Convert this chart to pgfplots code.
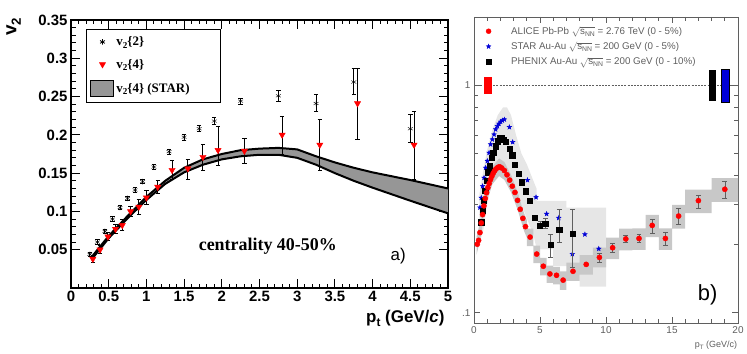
\documentclass[border=0pt]{standalone}
\usepackage{fontspec}
\setmainfont{Liberation Serif}
\setsansfont{Liberation Sans}
\usepackage{graphicx}
\usepackage{pgfplots}
\pgfplotsset{compat=1.18}
\newcommand{\lsub}[1]{\raisebox{-0.45ex}{\scalebox{0.7}{#1}}}
\newcommand{\snn}{$\sqrt{\mbox{s\lsub{NN}}}$}
\definecolor{bandgray}{RGB}{150,150,150}
\definecolor{lightsys}{RGB}{230,230,230}
\definecolor{alicesys}{RGB}{200,200,200}
\definecolor{labgray}{RGB}{95,95,95}
\definecolor{starblue}{RGB}{0,0,215}
\pgfdeclareplotmark{fstar}{%
  \pgfpathmoveto{\pgfqpointpolar{90}{\pgfplotmarksize}}%
  \pgfpathlineto{\pgfqpointpolar{126}{0.42\pgfplotmarksize}}%
  \pgfpathlineto{\pgfqpointpolar{162}{\pgfplotmarksize}}%
  \pgfpathlineto{\pgfqpointpolar{198}{0.42\pgfplotmarksize}}%
  \pgfpathlineto{\pgfqpointpolar{234}{\pgfplotmarksize}}%
  \pgfpathlineto{\pgfqpointpolar{270}{0.42\pgfplotmarksize}}%
  \pgfpathlineto{\pgfqpointpolar{306}{\pgfplotmarksize}}%
  \pgfpathlineto{\pgfqpointpolar{342}{0.42\pgfplotmarksize}}%
  \pgfpathlineto{\pgfqpointpolar{18}{\pgfplotmarksize}}%
  \pgfpathlineto{\pgfqpointpolar{54}{0.42\pgfplotmarksize}}%
  \pgfpathclose
  \pgfusepathqfillstroke}
\begin{document}
\begin{tikzpicture}[x=1bp,y=1bp]
\path[use as bounding box] (0,0) rectangle (747,353);
% ---------------- panel a ----------------
\begin{axis}[
  at={(71bp,65bp)}, anchor=south west, scale only axis,
  width=377bp, height=268bp,
  xmin=0, xmax=5, ymin=0, ymax=0.35,
  scaled ticks=false,
  xtick={0,0.5,1,1.5,2,2.5,3,3.5,4,4.5,5},
  xticklabels={0,0.5,1,1.5,2,2.5,3,3.5,4,4.5,5},
  ytick={0.05,0.1,0.15,0.2,0.25,0.3,0.35},
  yticklabels={0.05,0.1,0.15,0.2,0.25,0.3,0.35},
  minor x tick num=4, minor y tick num=4,
  tick align=inside, major tick length=9bp, minor tick length=4.5bp,
  axis line style={line width=1.5bp},
  every tick/.style={black, line width=1bp},
  ticklabel style={font=\sffamily\bfseries\fontsize{15}{18}\selectfont},
  clip mode=individual,
  legend style={at={(rel axis cs:0.04,0.966)}, anchor=north west, draw=black, line width=1.2bp,
    font=\rmfamily\bfseries\fontsize{13}{15}\selectfont, inner xsep=3bp, inner ysep=5bp, row sep=8bp},
  legend cell align=left,
]
\addplot[fill=bandgray, draw=none, forget plot] coordinates {
(0.27,0.040)(0.5,0.068)(0.75,0.094)(1.0,0.119)(1.25,0.140)(1.5,0.157)(1.75,0.168)(2.0,0.175)(2.25,0.180)(2.5,0.182)(2.75,0.183)(3.0,0.181)(3.25,0.172)(3.5,0.164)(3.75,0.157)(4.0,0.151)(4.5,0.141)(5.0,0.130)
(5.0,0.0975)(4.5,0.114)(4.0,0.131)(3.75,0.140)(3.5,0.150)(3.25,0.161)(3.0,0.170)(2.75,0.174)(2.5,0.174)(2.25,0.172)(2.0,0.168)(1.75,0.161)(1.5,0.151)(1.25,0.136)(1.0,0.115)(0.75,0.091)(0.5,0.065)(0.27,0.037)} -- cycle;
\addplot[black, line width=2bp, forget plot] coordinates {
(0.27,0.040)(0.5,0.068)(0.75,0.094)(1.0,0.119)(1.25,0.140)(1.5,0.157)(1.75,0.168)(2.0,0.175)(2.25,0.180)(2.5,0.182)(2.75,0.183)(3.0,0.181)(3.25,0.172)(3.5,0.164)(3.75,0.157)(4.0,0.151)(4.5,0.141)(5.0,0.130)};
\addplot[black, line width=2bp, forget plot] coordinates {
(0.27,0.037)(0.5,0.065)(0.75,0.091)(1.0,0.115)(1.25,0.136)(1.5,0.151)(1.75,0.161)(2.0,0.168)(2.25,0.172)(2.5,0.174)(2.75,0.174)(3.0,0.170)(3.25,0.161)(3.5,0.150)(3.75,0.140)(4.0,0.131)(4.5,0.114)(5.0,0.0975)};
% v2{2}
\addplot[only marks, mark=asterisk, mark size=2.8bp, black,
  legend image code/.code={\path[draw=none, fill=none] (0bp,-4bp) rectangle (24bp,4bp); \path[draw=none, fill=none] plot[mark=asterisk, mark size=2.8bp, mark options={draw=black, line width=0.8bp}] coordinates {(12bp,0bp)};},
  error bars/.cd, y dir=both, y explicit, error bar style={line width=1bp, black},
  error mark options={rotate=90, mark size=2.2bp, line width=1bp, black}]
coordinates {
(0.25,0.044) +- (0,0.003)
(0.35,0.060) +- (0,0.003)
(0.45,0.074) +- (0,0.003)
(0.55,0.090) +- (0,0.003)
(0.65,0.105) +- (0,0.003)
(0.75,0.117) +- (0,0.003)
(0.85,0.128) +- (0,0.003)
(0.95,0.139) +- (0,0.003)
(1.10,0.158) +- (0,0.003)
(1.30,0.178) +- (0,0.003)
(1.50,0.197) +- (0,0.004)
(1.70,0.208) +- (0,0.004)
(1.90,0.218) +- (0,0.005)
(2.25,0.244) +- (0,0.004)
(2.75,0.251) +- (0,0.007)
(3.25,0.241) += (0,0.012) -= (0,0.011)
(3.75,0.269) += (0,0.018) -= (0,0.016)
(4.50,0.208) += (0,0.019) -= (0,0.018)
};
\addlegendentry{v\lsub{2}\{2\}}
% v2{4}
\addplot[only marks, mark=triangle*, mark size=3.6bp, red, mark options={rotate=180, fill=red, draw=red},
  legend image code/.code={\path[draw=none, fill=none] (0bp,-4bp) rectangle (24bp,4bp); \path[draw=none, fill=none] plot[mark=triangle*, mark size=3.6bp, mark options={rotate=180, fill=red, draw=red, line width=0.4bp}] coordinates {(12bp,0bp)};},
  error bars/.cd, y dir=both, y explicit, error bar style={line width=1bp, black},
  error mark options={rotate=90, mark size=2.2bp, line width=1bp, black}]
coordinates {
(0.29,0.038) +- (0,0.005)
(0.385,0.050) +- (0,0.005)
(0.49,0.067) +- (0,0.005)
(0.59,0.077) +- (0,0.006)
(0.68,0.082) +- (0,0.007)
(0.79,0.100) +- (0,0.007)
(0.90,0.106) +- (0,0.010)
(1.00,0.118) +- (0,0.009)
(1.15,0.132) +- (0,0.009)
(1.34,0.154) +- (0,0.012)
(1.55,0.156) += (0,0.012) -= (0,0.014)
(1.75,0.171) += (0,0.016) -= (0,0.018)
(1.95,0.180) += (0,0.031) -= (0,0.020)
(2.30,0.179) += (0,0.016) -= (0,0.017)
(2.80,0.200) += (0,0.024) -= (0,0.025)
(3.30,0.187) += (0,0.033) -= (0,0.034)
(3.80,0.241) += (0,0.046) -= (0,0.047)
(4.55,0.187) += (0,0.044) -= (0,0.045)
};
\addlegendentry{v\lsub{2}\{4\}}
\addlegendimage{legend image code/.code={\draw[fill=bandgray, line width=1.6bp] (0bp,-8bp) rectangle (23bp,8bp);}}
\addlegendentry{v\lsub{2}\{4\} (STAR)\hspace*{26bp}}
\node[font=\rmfamily\bfseries\fontsize{18}{21}\selectfont] at (axis cs:2.61,0.055) {centrality 40-50\%};
\node[font=\sffamily\fontsize{17}{20}\selectfont] at (axis cs:4.34,0.042) {a)};
\node[rotate=90, font=\sffamily\bfseries\fontsize{19}{22}\selectfont] at (rel axis cs:-0.152,0.975) {v\lsub{2}};
\node[anchor=east, font=\sffamily\bfseries\fontsize{17}{20}\selectfont] at (rel axis cs:1.0,-0.115) {p\lsub{t} (GeV/\textit{c})};
\end{axis}
% ---------------- panel b ----------------
\begin{axis}[
  at={(474bp,30bp)}, anchor=south west, scale only axis,
  width=264bp, height=306bp,
  xmin=0, xmax=20, ymode=log, ymin=0.09, ymax=2,
  scaled ticks=false,
  xtick={0,5,10,15,20}, xticklabels={0,5,10,15,20}, minor x tick num=4,
  ytick={0.1,1}, yticklabels={.1,1},
  minor ytick={0.09,0.2,0.3,0.4,0.5,0.6,0.7,0.8,0.9,2},
  tick align=inside, major tick length=6bp, minor tick length=4bp,
  axis line style={labgray, line width=0.8bp},
  every tick/.style={labgray, line width=0.7bp},
  ticklabel style={font=\sffamily\fontsize{10}{12}\selectfont, text=labgray},
  clip mode=individual,
  legend style={at={(rel axis cs:0.045,0.975)}, anchor=north west, draw=none, fill=none,
    font=\sffamily\fontsize{9.8}{11}\selectfont, text=labgray, row sep=2.5bp, inner sep=0pt},
  legend cell align=left,
]
\addlegendimage{only marks, mark=*, red, mark size=2.5bp}
\addlegendentry{\hspace*{18bp}ALICE Pb-Pb \snn{} = 2.76 TeV (0 - 5\%)}
\addlegendimage{only marks, mark=fstar, starblue, mark size=2.4bp}
\addlegendentry{\hspace*{18bp}STAR Au-Au \snn{} = 200 GeV (0 - 5\%)}
\addlegendimage{only marks, mark=square*, black, mark size=2.4bp}
\addlegendentry{\hspace*{18bp}PHENIX Au-Au \snn{} = 200 GeV (0 - 10\%)}
% light systematic band (STAR / PHENIX)
\addplot[fill=lightsys, draw=none, forget plot] coordinates {
(0.4,0.33)(0.7,0.42)(1.0,0.52)(1.4,0.64)(1.8,0.74)(2.2,0.80)(2.5,0.80)(2.8,0.74)(3.2,0.60)(3.6,0.50)(4.0,0.45)(4.5,0.38)(4.75,0.35)(4.75,0.31)(7,0.31)(7,0.29)(10,0.29)
(10,0.13)(8,0.13)(8,0.16)(6,0.16)(6,0.19)(4.75,0.19)(4.5,0.22)(4.0,0.26)(3.5,0.31)(3.0,0.37)(2.5,0.44)(2.0,0.46)(1.5,0.40)(1.0,0.30)(0.7,0.23)(0.4,0.20)} -- cycle;
% ALICE systematic boxes
\addplot[fill=alicesys, draw=none, forget plot] coordinates {
(0.2,0.216)(0.5,0.257)(0.8,0.334)(1.0,0.377)(1.4,0.440)(1.9,0.477)(2.3,0.460)(2.8,0.405)(3.3,0.340)(3.8,0.273)(4.0,0.256)(4.0,0.234)(4.5,0.234)(4.5,0.197)(5,0.197)(5,0.174)(5.5,0.174)(5.5,0.161)(6,0.161)(6,0.159)(6.5,0.159)(6.5,0.152)(7,0.152)(7,0.166)(8,0.166)(8,0.179)(9,0.179)(9,0.193)(10,0.193)(10,0.214)(11,0.214)(11,0.234)(12,0.234)(12,0.235)(13,0.235)(13,0.269)(14,0.269)(14,0.235)(15,0.235)(15,0.298)(16,0.298)(16,0.348)(18,0.348)(18,0.391)(20,0.391)
(20,0.307)(18,0.307)(18,0.274)(16,0.274)(16,0.234)(15,0.234)(15,0.189)(14,0.189)(14,0.215)(13,0.215)(13,0.189)(12,0.189)(12,0.188)(11,0.188)(11,0.172)(10,0.172)(10,0.158)(9,0.158)(9,0.147)(8,0.147)(8,0.138)(7,0.138)(7,0.126)(6.5,0.126)(6.5,0.133)(6,0.133)(6,0.135)(5.5,0.135)(5.5,0.146)(5,0.146)(5,0.165)(4.5,0.165)(4.5,0.196)(4,0.196)(4,0.214)(3.8,0.228)(3.3,0.284)(2.8,0.339)(2.3,0.384)(1.9,0.399)(1.4,0.368)(1.0,0.315)(0.8,0.278)(0.5,0.215)(0.2,0.180)} -- cycle;
% reference line and normalisation boxes
\addplot[labgray, dash pattern=on 2bp off 1.2bp, line width=0.5bp, forget plot] coordinates {(0,1)(20,1)};
\addplot[fill=red, draw=none, forget plot] coordinates {(0.75,0.92)(1.35,0.92)(1.35,1.09)(0.75,1.09)} -- cycle;
\addplot[fill=black, draw=none, forget plot] coordinates {(17.8,0.853)(18.35,0.853)(18.35,1.168)(17.8,1.168)} -- cycle;
\addplot[fill=starblue, draw=black, line width=0.4bp, forget plot] coordinates {(18.7,0.845)(19.3,0.845)(19.3,1.176)(18.7,1.176)} -- cycle;
% STAR
\addplot[only marks, mark=fstar, starblue, mark size=2.4bp, forget plot] coordinates {
(0.45,0.29)(0.55,0.32)(0.65,0.36)(0.76,0.392)(0.88,0.434)(1.01,0.465)(1.14,0.505)(1.26,0.55)(1.39,0.578)(1.52,0.608)(1.64,0.64)(1.77,0.662)(1.89,0.678)(2.02,0.692)(2.15,0.701)(2.3,0.708)(2.68,0.655)(2.93,0.563)(4.05,0.383)(4.7,0.322)(5.5,0.272)(6.42,0.261)(7.45,0.181)(8.4,0.221)(9.45,0.191)};
% PHENIX
\addplot[only marks, mark=square*, black, mark size=2.6bp, forget plot] coordinates {
(0.55,0.25)(0.65,0.28)(0.75,0.31)(0.85,0.345)(0.95,0.38)(1.08,0.415)(1.21,0.441)(1.36,0.48)(1.46,0.505)(1.62,0.54)(1.77,0.568)(1.92,0.586)(2.07,0.588)(2.22,0.578)(2.4,0.563)(2.73,0.526)(2.9,0.493)(3.1,0.449)(3.41,0.41)(3.61,0.375)(3.89,0.342)(4.19,0.312)(4.62,0.262)};
\addplot[only marks, mark=square*, black, mark size=2.6bp, forget plot,
  error bars/.cd, y dir=both, y explicit, error bar style={line width=0.6bp, labgray},
  error mark options={rotate=90, mark size=2.4bp, line width=0.6bp, labgray}] coordinates {
(5.0,0.242) += (0,0.010) -= (0,0.008)
(5.4,0.247) += (0,0.014) -= (0,0.013)
(5.78,0.199) += (0,0.022) -= (0,0.023)
(6.46,0.232) += (0,0.054) -= (0,0.028)
(7.48,0.223) += (0,0.062) -= (0,0.064)};
% ALICE
\addplot[only marks, mark=*, red, mark size=2.6bp, forget plot] coordinates {
(0.25,0.200)(0.35,0.208)(0.45,0.225)(0.55,0.248)(0.65,0.270)(0.75,0.295)(0.85,0.318)(0.95,0.337)(1.05,0.355)(1.15,0.370)(1.25,0.385)(1.35,0.398)(1.45,0.410)(1.55,0.420)(1.65,0.428)(1.75,0.433)(1.85,0.437)(1.95,0.438)(2.1,0.433)(2.3,0.422)(2.5,0.404)(2.7,0.383)(2.9,0.360)(3.1,0.338)(3.3,0.312)(3.5,0.285)(3.7,0.260)(3.9,0.239)(4.25,0.215)(4.75,0.181)(5.25,0.160)(5.75,0.148)(6.25,0.146)(6.75,0.139)(7.5,0.152)(8.5,0.163)};
\addplot[only marks, mark=*, red, mark size=2.6bp, forget plot,
  error bars/.cd, y dir=both, y explicit, error bar style={line width=0.6bp, labgray},
  error mark options={rotate=90, mark size=2.4bp, line width=0.6bp, labgray}] coordinates {
(9.5,0.175) +- (0,0.008)
(10.5,0.193) +- (0,0.008)
(11.5,0.211) +- (0,0.008)
(12.5,0.212) +- (0,0.009)
(13.5,0.242) += (0,0.015) -= (0,0.018)
(14.5,0.212) += (0,0.014) -= (0,0.015)
(15.5,0.266) += (0,0.021) -= (0,0.022)
(17.0,0.311) += (0,0.019) -= (0,0.022)
(19.0,0.349) += (0,0.031) -= (0,0.029)};
\node[font=\sffamily\fontsize{22}{26}\selectfont] at (axis cs:17.7,0.12) {b)};
\node[anchor=east, font=\sffamily\fontsize{9}{11}\selectfont, text=labgray] at (rel axis cs:1.01,-0.072) {p\lsub{T} (GeV/c)};
\end{axis}
\end{tikzpicture}
\end{document}
